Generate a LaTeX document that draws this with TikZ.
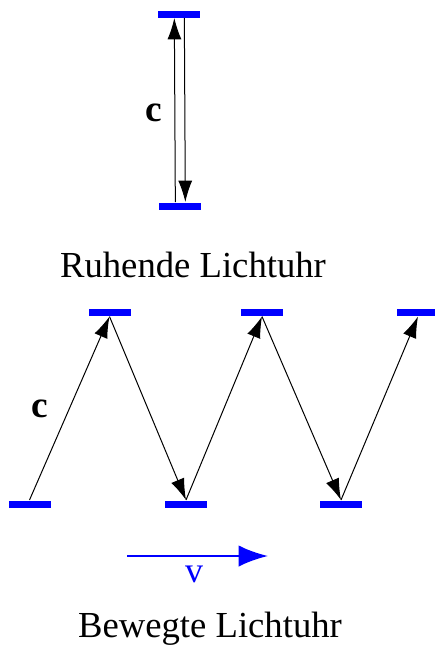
\documentclass[tikz,border=0pt]{standalone}
\usepackage{fontspec}
\setmainfont{Liberation Serif}
\usetikzlibrary{arrows.meta}
\tikzset{every picture/.style={line width=0.75pt}}
\definecolor{mirrorblue}{RGB}{0,0,255}

\begin{document}
\begin{tikzpicture}[x=0.75pt,y=0.75pt,yscale=-1,xscale=1,
  mirror/.style={fill=mirrorblue,minimum width=31.5pt,minimum height=5.25pt,inner sep=0pt},
  ray/.style={-{Latex[length=16pt,width=10.5pt]}},
  title/.style={anchor=base,font=\fontsize{27.5}{32}\selectfont},
  clabel/.style={font=\fontsize{28}{32}\selectfont\bfseries}]
\useasboundingbox (0,0) rectangle (435,647);

%Mirrors: resting clock
\node[mirror] (top) at (179,14) {};
\node[mirror] (bot) at (180,206) {};
%Straight Lines: light up and down
\draw[ray] ([xshift=-3.5pt]bot.north) -- ([xshift=-3.5pt]top.south);
\draw[ray] ([xshift=4pt]top.south) -- ([xshift=4pt]bot.north);
\node[clabel] (c1) at (154,113) {c};
\node[title] (rest) at (193,277) {Ruhende Lichtuhr};

%Mirrors: moving clock
\node[mirror] (m1) at (109.5,312.5) {};
\node[mirror] (m2) at (262,312.5) {};
\node[mirror] (m3) at (418,312.5) {};
\node[mirror] (m4) at (29.5,504) {};
\node[mirror] (m5) at (186,504) {};
\node[mirror] (m6) at (341,504) {};
%Straight Lines: zigzag path
\draw[ray] (m4.north) -- (m1.south);
\draw[ray] (m1.south) -- (m5.north);
\draw[ray] (m5.north) -- (m2.south);
\draw[ray] (m2.south) -- (m6.north);
\draw[ray] (m6.north) -- (m3.south);
\node[clabel] (c2) at (40,409) {c};

%Velocity arrow
\coordinate (vstart) at (127,556);
\coordinate (vend) at (268,556);
\draw[mirrorblue,line width=1.8pt,-{Latex[length=22pt,width=16pt]}] (vstart) -- (vend);
\node[mirrorblue,font=\fontsize{27}{32}\selectfont] (v) at (194,574) {v};
\node[title] (moving) at (210,637) {Bewegte Lichtuhr};
\end{tikzpicture}
\end{document}
